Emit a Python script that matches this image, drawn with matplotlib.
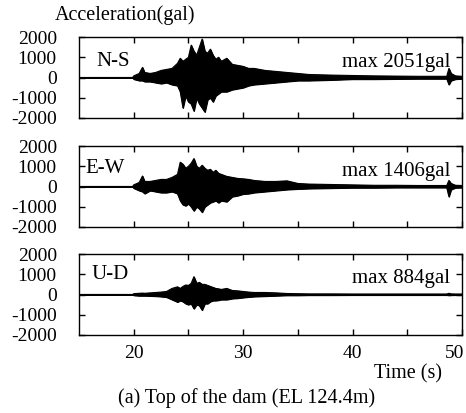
import matplotlib
matplotlib.use('Agg')
from matplotlib import pyplot as plt
from matplotlib.transforms import ScaledTranslation
import numpy as np

plt.rcParams['font.family'] = ['Liberation Serif', 'DejaVu Serif']

# sample times (s) of the envelope
times = [15, 19.9, 20.0, 20.5, 20.8, 21.0, 21.5, 22.0, 22.5, 23.0, 23.5, 24.0,
         24.25, 24.5, 24.75, 25.0, 25.25, 25.5, 25.75, 26.0, 26.25, 26.5, 26.75,
         27.0, 27.25, 27.5, 27.75, 28.0, 28.5, 29.0, 29.5, 30.0, 30.5, 31.0,
         32.0, 33.0, 34.0, 35.0, 36.0, 38.0, 40.0, 42.0, 44.0, 46.0, 48.0,
         48.6, 48.8, 49.0, 49.4, 50.0]

# positive / negative peaks (gal)
ns_up = [0, 0, 80, 200, 500, 250, 200, 250, 350, 400, 450, 700,
         950, 800, 900, 1000, 1600, 1300, 1100, 1500, 1900, 1300, 1200,
         1400, 1100, 900, 1000, 800, 950, 650, 600, 550, 450, 450,
         350, 300, 250, 200, 150, 120, 100, 80, 70, 60, 60,
         60, 450, 200, 80, 60]
ns_lo = [0, 0, -80, -150, -150, -200, -200, -250, -300, -250, -350, -400,
         -700, -1500, -900, -1200, -1300, -1650, -1000, -1300, -1500, -1700, -1100,
         -1000, -1200, -900, -800, -700, -700, -600, -550, -500, -400, -350,
         -300, -250, -200, -150, -150, -120, -80, -80, -70, -60, -60,
         -60, -350, -150, -80, -60]

ew_up = [0, 0, 80, 200, 520, 250, 250, 300, 350, 350, 450, 600,
         1200, 1100, 900, 1000, 1150, 1380, 1000, 900, 1050, 900, 800,
         850, 700, 800, 650, 600, 500, 450, 400, 380, 350, 300,
         250, 250, 280, 150, 120, 100, 80, 60, 60, 50, 50,
         50, 300, 150, 60, 50]
ew_lo = [0, 0, -80, -200, -250, -350, -200, -250, -300, -300, -250, -350,
         -700, -900, -950, -850, -1000, -1200, -1000, -1100, -1270, -1000, -900,
         -800, -750, -700, -800, -700, -750, -500, -450, -370, -350, -300,
         -250, -200, -150, -120, -100, -80, -60, -60, -50, -50, -50,
         -50, -500, -150, -60, -50]

ud_up = [0, 0, 40, 60, 70, 60, 80, 100, 120, 150, 300, 380,
         300, 400, 470, 450, 550, 880, 550, 600, 500, 500, 450,
         400, 350, 300, 280, 250, 300, 200, 180, 150, 120, 100,
         100, 80, 50, 40, 30, 30, 25, 25, 25, 25, 25,
         25, 60, 30, 25, 25]
ud_lo = [0, 0, -40, -60, -60, -60, -70, -80, -100, -130, -250, -370,
         -300, -350, -450, -500, -450, -700, -500, -550, -770, -450, -450,
         -350, -300, -300, -280, -250, -250, -200, -180, -150, -120, -100,
         -80, -60, -40, -40, -30, -30, -25, -25, -25, -25, -25,
         -25, -40, -30, -25, -25]

components = ['N-S', 'E-W', 'U-D']
max_labels = ['max 2051gal', 'max 1406gal', 'max 884gal']
uppers = [ns_up, ew_up, ud_up]
lowers = [ns_lo, ew_lo, ud_lo]
name_pos = [(16.55, 800), (15.55, 885), (16.1, 965)]
max_y = [765, 750, 800]

fig = plt.figure(figsize=(4.66, 4.13), dpi=100)
bottoms = [0.7143, 0.4504, 0.1889]

for i in range(3):
    ax = fig.add_axes([0.1695, bottoms[i], 0.822, 0.196])
    ax.fill_between(times, lowers[i], uppers[i], color='black', lw=0.8)
    ax.plot(times, uppers[i], color='black', lw=0.8)
    ax.plot(times, lowers[i], color='black', lw=0.8)
    ax.set_xlim(15, 50)
    ax.set_ylim(-2000, 2000)
    ax.set_yticks([-2000, -1000, 0, 1000, 2000])
    ax.set_yticklabels(['-2000', '-1000', '0', '1000', '2000'])
    ax.set_xticks([20, 30, 40, 50])
    ax.set_xticks([25, 35, 45], minor=True)
    ax.tick_params(which='both', direction='in', top=True, right=True,
                   length=4, width=1, labelsize=14)
    ax.tick_params(axis='y', pad=16)
    ax.tick_params(axis='x', pad=7)
    if i < 2:
        ax.tick_params(labelbottom=False)
    else:
        # last label sits a little inside the figure edge
        lab = ax.get_xticklabels()[-1]
        lab.set_transform(lab.get_transform() +
                          ScaledTranslation(-7 / 100, 0, fig.dpi_scale_trans))
    for s in ax.spines.values():
        s.set_linewidth(1.0)
    ax.text(name_pos[i][0], name_pos[i][1], components[i], fontsize=15,
            ha='left', va='center')
    ax.text(0.969, max_y[i], max_labels[i], fontsize=15, ha='right',
            va='center', transform=ax.get_yaxis_transform())

fig.text(0.118, 0.963, 'Acceleration(gal)', fontsize=14.5, ha='left', va='center')
fig.text(0.949, 0.095, 'Time (s)', fontsize=14.5, ha='right', va='center')
fig.text(0.53, 0.036, '(a) Top of the dam (EL 124.4m)', fontsize=14.5,
         ha='center', va='center')

fig.savefig('out.png', dpi=100)
